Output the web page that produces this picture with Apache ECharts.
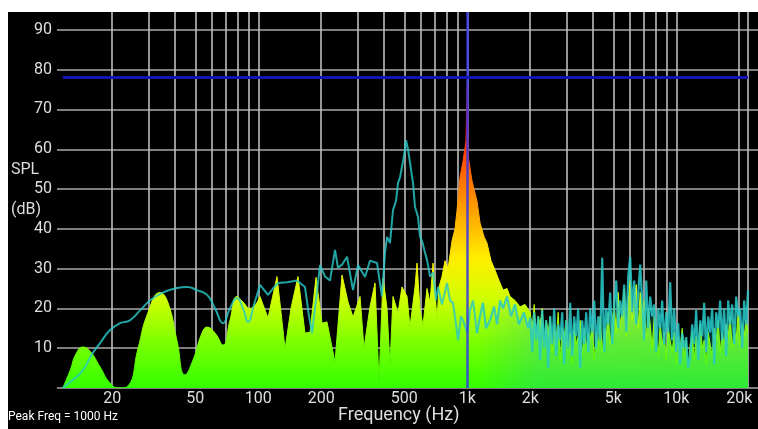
<!DOCTYPE html>
<html>
<head>
<meta charset="utf-8">
<script src="https://cdn.jsdelivr.net/npm/echarts@6/dist/echarts.min.js"></script>
<style>
html, body { margin: 0; padding: 0; background: #fff; }
#wrap { position: relative; width: 758px; height: 429px; }
#bg { position: absolute; left: 8px; top: 12px; right: 0; bottom: 0; background: #000; }
#chart { position: absolute; left: 0; top: 0; width: 758px; height: 429px; }
</style>
</head>
<body>
<div id="wrap"><div id="bg"></div><div id="chart"></div></div>
<script>
// spectrum (filled), low part is drawn smooth
var specLowFreq = [11.6, 12.6, 13.4, 14.5, 15.7, 17.5, 19.5, 21.5, 23.8, 26.6, 29.6, 33.9, 37.0, 40.8, 44.6, 48.7, 53.8, 56.9, 62.1, 67.8, 73.2, 79.1, 84.5, 91.3, 101.9];
var specLowDb   = [0, 4.5, 8.5, 10.3, 9.2, 5.3, 1.3, 0, 0.5, 10, 18.8, 24, 21.4, 12, 3.3, 7, 13.8, 15.3, 13.8, 10.8, 17, 23, 21.6, 20, 23];

var specMidFreq = [101.9, 111.3, 122.9, 128.5, 134.3, 143.4, 154.9, 167.3, 176.8, 188.9, 201.8, 213.2, 232.9, 251.6, 268.8, 284.0, 306.8, 320.5, 342.4, 361.9,
  378.2, 395.3, 413.1, 426.9, 441.2, 466.3, 487.3, 514.9, 532.1, 562.3, 574.9, 594.1, 614.1, 641.8, 663.4, 685.7, 716.4, 732.3, 757, 782.4,
  808.9, 845.3, 873.6, 893.3, 923.3, 954.3, 985, 1000, 1012, 1054, 1089, 1113, 1151, 1203, 1243, 1299, 1358, 1419, 1483, 1550,
  1602, 1692, 1788, 1889];
var specMidDb = [23, 17.6, 28, 19, 9.8, 20, 28, 13.8, 14, 27.8, 16.3, 16.6, 6.5, 28.4, 21.6, 17.8, 23, 10, 20.4, 26.4,
  1.5, 27.6, 20, 5.5, 23, 18.8, 25.4, 23, 15.3, 25.4, 31.4, 19.6, 15.8, 25, 21.4, 31.4, 17, 25.4, 28, 32,
  30, 37, 40, 44.7, 53, 57, 62, 76, 58, 52, 49, 47, 41.5, 38, 36.4, 32, 29.6, 27, 24.6, 25,
  23, 22, 20.4, 21];

// high band, shared frequencies for both traces
var hiFreq = [2000, 2045, 2090, 2137, 2185, 2233, 2283, 2334, 2386, 2439,
  2493, 2549, 2606, 2664, 2723, 2784, 2846, 2909, 2974, 3040,
  3108, 3177, 3248, 3320, 3394, 3470, 3547, 3626, 3707, 3790,
  3874, 3961, 4049, 4139, 4231, 4325, 4422, 4520, 4621, 4724,
  4829, 4937, 5047, 5159, 5274, 5391, 5511, 5634, 5760, 5888,
  6019, 6153, 6290, 6430, 6574, 6720, 6870, 7023, 7179, 7339,
  7503, 7670, 7841, 8016, 8194, 8377, 8563, 8754, 8949, 9148,
  9352, 9560, 9773, 9991, 10213, 10441, 10673, 10911, 11154, 11402,
  11656, 11916, 12181, 12453, 12730, 13014, 13303, 13600, 13903, 14212,
  14529, 14852, 15183, 15521, 15867, 16220, 16581, 16951, 17328, 17714,
  18109, 18512, 18924, 19346, 19777, 20217, 20667, 21128, 21598, 22050];
var hiSpecDb = [19, 15, 21, 13, 18, 16, 20, 11, 17, 14,
  18, 9, 16, 12, 19, 7, 15, 13, 17, 10,
  14, 6, 16, 11, 13, 17, 8, 15, 10, 14,
  12, 16, 7, 14, 10, 18, 9, 15, 13, 19,
  11, 17, 21, 14, 24, 16, 19, 25, 13, 22,
  27, 17, 23, 26, 15, 24, 19, 22, 12, 20,
  16, 10, 18, 13, 8, 16, 11, 14, 7, 15,
  12, 9, 14, 6, 13, 10, 15, 8, 12, 5,
  11, 14, 7, 13, 9, 16, 10, 12, 6, 14,
  11, 8, 15, 12, 17, 9, 14, 11, 16, 13,
  18, 10, 15, 12, 19, 11, 16, 13, 17, 14];
var hiPeakDb = [17.8, 9, 19, 12, 18, 7, 19.6, 10, 17, 5,
  18, 11, 20, 8, 16, 12, 19, 6, 17, 10,
  21.4, 8, 18, 13, 20, 5, 17, 11, 19, 9,
  20, 14, 22, 10, 18, 12, 32.7, 9, 20, 16,
  24, 11, 21, 27, 15, 22, 18, 26, 14, 28,
  33, 19, 27, 16, 24, 31, 22, 12, 27, 15,
  23, 18, 21, 9, 20, 15, 22, 11, 19, 14,
  26.6, 12, 20, 9, 16.3, 6, 13.8, 10, 12.8, 5,
  8, 16, 11, 19.6, 7, 17, 13, 21.4, 9, 18,
  14, 20, 6, 19, 15, 22, 12, 20, 8, 22,
  16, 21, 11, 23, 18, 20, 10, 22, 16, 24.6];

// peak-hold trace (teal)
var peakLowFreq = [11.6, 12.6, 14.5, 16.0, 17.5, 19.5, 21.8, 24.3, 27.2, 30.3, 35.0, 40.0, 45.6, 50.9, 56.9, 62.1, 67.8, 73.2, 79.1, 84.5, 89.3, 95.4, 101.9];
var peakLowDb   = [0, 1.5, 4.5, 8.5, 11.3, 14.5, 16.3, 17, 19.5, 22, 24, 25, 25.4, 24.6, 23.4, 20, 16.3, 20, 22.6, 20, 16.6, 21, 25.9];

var peakMidFreq = [101.9, 111.3, 117.6, 124.3, 137.3, 153.2, 167.3, 174.9, 180.7, 188.9, 197.4, 208.7, 220.4, 232.9, 240.7, 251.6, 265.8, 284.0, 300.1, 324.2,
  342.4, 370.0, 390.8, 404.0, 413.1, 426.9, 441.2, 456.0, 466.3, 476.9, 492.7, 503.6, 509.2, 520.6, 532.1, 550.0, 562.3, 581.2, 594.1, 607.4,
  627.9, 641.8, 663.4, 685.7, 708.6, 724.4, 757, 800, 826.9, 854.7, 883.4, 903.3, 933.3, 954.3, 1000, 1031, 1065, 1113];
var peakMidDb = [25.9, 23.4, 25, 26.4, 26.6, 27, 25.4, 18, 13.8, 22, 30.9, 28, 27, 34.7, 30.2, 31, 33, 24.6, 30.9, 27.9,
  32, 31.4, 23, 34, 38, 36.4, 44.7, 47, 51.5, 53, 57, 60, 62.3, 60, 59.5, 51.5, 45.5, 43, 38, 37,
  34, 32.2, 28, 29, 22, 25.4, 21, 26.4, 22, 21.4, 16, 12, 18, 17, 14, 19.6, 22, 13.8];

var peakUpperFreq = [1113, 1151, 1189, 1229, 1285, 1343, 1388, 1435, 1483, 1550, 1620, 1692, 1768, 1868, 1953];
var peakUpperDb   = [13.8, 18, 21.4, 15, 17, 20.5, 16, 22, 20, 23, 18, 21, 16, 19, 15];

// axes
var gridFreqs = [20, 30, 40, 50, 60, 70, 80, 90, 100, 200, 300, 400, 500, 600, 700, 800, 900,
  1000, 2000, 3000, 4000, 5000, 6000, 7000, 8000, 9000, 10000, 20000, 22050];
var labelFreqs = [20, 50, 100, 200, 500, 1000, 2000, 5000, 10000, 20000];
var labelTexts = ['20', '50', '100', '200', '500', '1k', '2k', '5k', '10k', '20k'];
var yLabels = [10, 20, 30, 40, 50, 60, 70, 80, 90];
var markerLevel = 78;
var peakFreq = 1000;

function pairs(freqs, vals) {
  return freqs.map(function (f, i) { return [Math.log10(f), vals[i]]; });
}

var chart = echarts.init(document.getElementById('chart'));
var labelColor = '#dedede';
var tealStyle = { color: 'rgba(40,200,200,0.82)', width: 2 };

chart.setOption({
  animation: false,
  backgroundColor: 'transparent',
  grid: { left: 57, right: 0, top: 12, bottom: 41 },
  xAxis: {
    type: 'value',
    min: 1.037,
    max: 4.391,
    axisLine: { show: false },
    axisTick: { show: false, customValues: gridFreqs.map(Math.log10) },
    axisLabel: {
      customValues: labelFreqs.map(Math.log10),
      color: labelColor,
      fontSize: 16,
      fontFamily: 'Roboto',
      margin: 3,
      formatter: function (v) {
        for (var i = 0; i < labelFreqs.length; i++) {
          if (Math.abs(Math.log10(labelFreqs[i]) - v) < 1e-6) return labelTexts[i];
        }
        return '';
      }
    },
    splitLine: { show: true, lineStyle: { color: '#bdbdbd', width: 1.6 } }
  },
  yAxis: {
    type: 'value',
    min: 0,
    max: 94.5,
    interval: 10,
    axisLine: { show: false },
    axisTick: { show: false },
    axisLabel: {
      color: labelColor,
      fontSize: 16,
      fontFamily: 'Roboto',
      margin: 5,
      showMaxLabel: false,
      formatter: function (v) { return yLabels.indexOf(v) >= 0 ? String(v) : ''; }
    },
    splitLine: { show: true, showMaxLine: false, lineStyle: { color: '#a8a8a8', width: 1.6 } }
  },
  visualMap: {
    show: false,
    type: 'continuous',
    seriesIndex: [0, 1],
    dimension: 1,
    min: 0,
    max: 65,
    inRange: { color: ['#33ff00', '#77ff00', '#ccff00', '#ffee00', '#ffaa00', '#ff6600', '#ff1a00'] }
  },
  graphic: [
    { type: 'text', left: 11, top: 162, style: { text: 'SPL', fill: labelColor, font: '16px Roboto' } },
    { type: 'text', left: 11, top: 202, style: { text: '(dB)', fill: labelColor, font: '16px Roboto' } },
    { type: 'text', left: 338, top: 406, style: { text: 'Frequency (Hz)', fill: labelColor, font: '18px Roboto' } },
    { type: 'text', left: 8, top: 411, style: { text: 'Peak Freq = 1000 Hz', fill: '#ffffff', font: '12px Roboto' } }
  ],
  series: [
    {
      type: 'line', smooth: 0.5, showSymbol: false, silent: true,
      lineStyle: { width: 1 }, areaStyle: { opacity: 1 },
      data: pairs(specLowFreq, specLowDb)
    },
    {
      type: 'line', smooth: false, showSymbol: false, silent: true,
      lineStyle: { width: 1 }, areaStyle: { opacity: 1 },
      data: pairs(specMidFreq.concat(hiFreq), specMidDb.concat(hiSpecDb))
    },
    {
      type: 'line', smooth: 0.5, showSymbol: false, silent: true,
      lineStyle: tealStyle,
      data: pairs(peakLowFreq, peakLowDb)
    },
    {
      type: 'line', smooth: false, showSymbol: false, silent: true,
      lineStyle: tealStyle,
      data: pairs(peakMidFreq, peakMidDb)
    },
    {
      type: 'line', smooth: false, showSymbol: false, silent: true,
      lineStyle: { color: 'rgba(40,200,200,0.85)', width: 2.2 },
      areaStyle: {
        color: new echarts.graphic.LinearGradient(0, 0, 1, 0, [
          { offset: 0, color: 'rgba(30,185,185,0)' },
          { offset: 0.22, color: 'rgba(30,185,185,0.4)' },
          { offset: 1, color: 'rgba(30,185,185,0.42)' }
        ])
      },
      data: pairs(peakUpperFreq.concat(hiFreq), peakUpperDb.concat(hiPeakDb)),
      markLine: {
        silent: true,
        symbol: ['none', 'none'],
        label: { show: false },
        animation: false,
        data: [
          { xAxis: Math.log10(peakFreq), lineStyle: { color: '#3535e6', width: 2.5, type: 'solid', opacity: 0.85 } },
          [
            { coord: [Math.log10(specLowFreq[0]), markerLevel], lineStyle: { color: '#1414b4', width: 3, type: 'solid', opacity: 1 } },
            { coord: [Math.log10(22050), markerLevel] }
          ]
        ]
      }
    }
  ]
});
</script>
</body>
</html>
